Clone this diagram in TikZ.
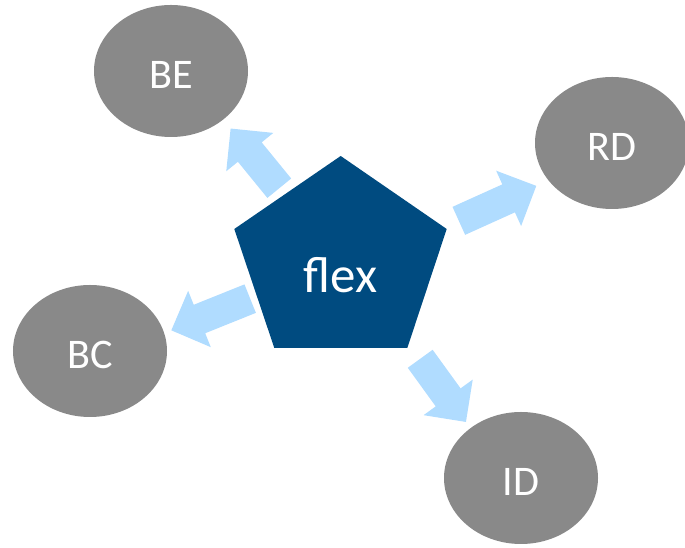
\documentclass[tikz,border=0pt]{standalone}
\usepackage{fontspec}
\setmainfont{Carlito}
\usetikzlibrary{shapes.geometric,shapes.arrows}
\definecolor{flexblue}{HTML}{004B80}
\definecolor{unitgrey}{HTML}{898989}
\definecolor{flowblue}{HTML}{B0DCFF}
\tikzset{
  unit/.style  = {ellipse, fill=unitgrey, text=white, minimum width=30.8mm,
                  minimum height=26.4mm, inner sep=0pt, text height=20pt, text depth=0pt,
                  font=\fontsize{24}{28}\selectfont},
  hub/.style   = {text=white, anchor=base, inner sep=0pt,
                  font=\fontsize{29}{34}\selectfont},
  flow/.style  = {single arrow, fill=flowblue, draw=none, anchor=tail,
                  text height=0pt, text depth=0pt, inner xsep=0pt, inner ysep=3mm,
                  single arrow head extend=3mm, single arrow tip angle=90},
}
\begin{document}
\begin{tikzpicture}[x=0.2mm, y=0.2mm]
  \useasboundingbox (0,0) rectangle (685,548);
  % centre pentagon
  \fill[flexblue] (340.7,392) -- (446.7,319) -- (407.3,200)
    -- (274.3,200) -- (234.3,319) -- cycle;
  \node[hub] (flex) at (340.5,255) {flex};
  % outer units
  \node[unit] (be) at (171,477) {BE};
  \node[unit] (rd) at (612,405) {RD};
  \node[unit] (bc) at (90,197) {BC};
  \node[unit] (id) at (521,70) {ID};
  % flows out of the pentagon
  \node[flow, rotate=129.2, minimum height=15.4mm] (tobe) at (279.5,359.5) {};
  \node[flow, rotate=24.3, minimum height=17mm] (tord) at (458.5,327) {};
  \node[flow, rotate=201.9, minimum height=17mm] (tobc) at (250.5,249.5) {};
  \node[flow, rotate=-54.1, minimum height=15.6mm] (toid) at (420,189.5) {};
\end{tikzpicture}
\end{document}
